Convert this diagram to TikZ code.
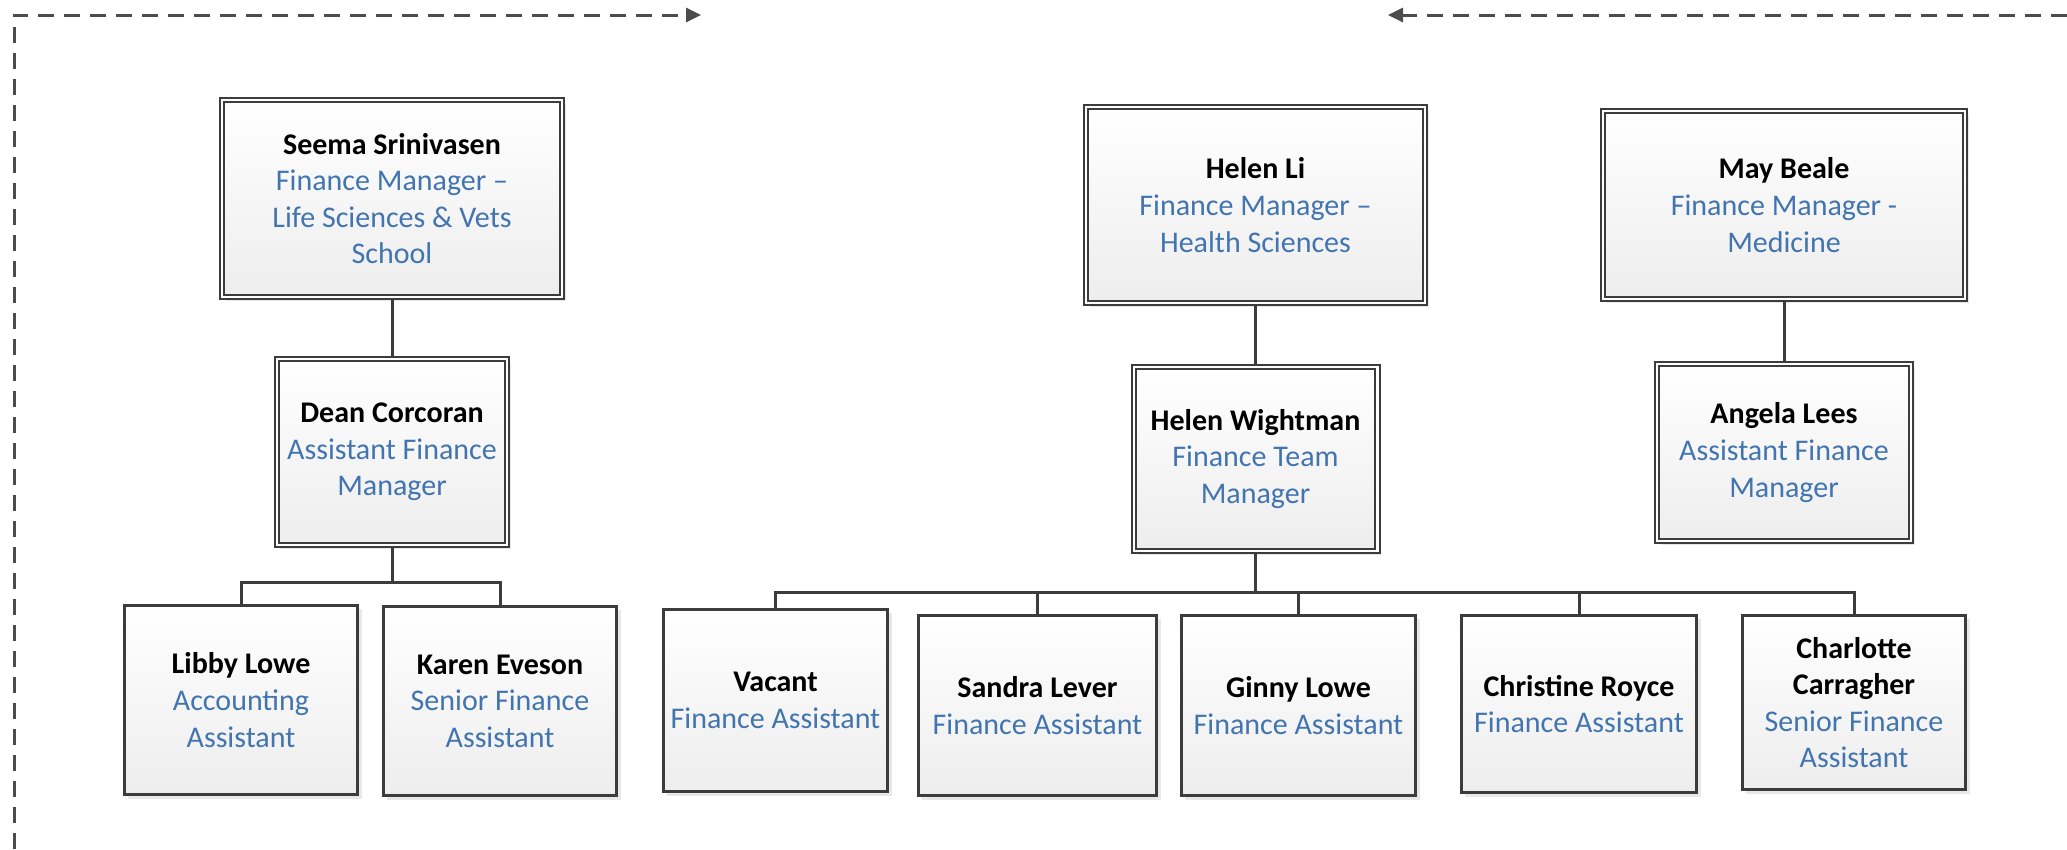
\documentclass[tikz,border=0pt]{standalone}
\usepackage{fontspec}
\setmainfont{Carlito}
\usetikzlibrary{shadows,arrows.meta}
\definecolor{ttlc}{HTML}{4275B0}
\definecolor{lnc}{HTML}{3C3C3C}
\newcommand\pname[1]{\textbf{#1}}
\newcommand\ptitle[1]{\textcolor{ttlc}{#1}}
\begin{document}
\begin{tikzpicture}[x=1pt,y=-1pt,
  box/.style={draw=lnc, line width=2.6pt, top color=white, bottom color=black!7,
    drop shadow={shadow xshift=4pt,shadow yshift=-4pt,fill=black!18},
    align=center, inner sep=0pt, font=\fontsize{30}{36.6}\selectfont},
  mgr/.style={box, line width=2pt, double=white, double distance=2.4pt},
  link/.style={draw=lnc, line width=3pt},
  flow/.style={draw=black!70, line width=3pt, dash pattern=on 16pt off 10pt,
    -{Triangle[length=15pt,width=14pt]}}]
\useasboundingbox (0,0) rectangle (2067,849);

% managers
\node[mgr, minimum width=339.6pt, minimum height=196.6pt] (seema) at (392,198.5)
  {\pname{Seema Srinivasen}\\\ptitle{Finance Manager –}\\\ptitle{Life Sciences \& Vets}\\\ptitle{School}};
\node[mgr, minimum width=229.6pt, minimum height=185.6pt] (dean) at (392,452)
  {\pname{Dean Corcoran}\\\ptitle{Assistant Finance}\\\ptitle{Manager}};
\node[mgr, minimum width=338.6pt, minimum height=195.6pt] (helenli) at (1255.5,205)
  {\pname{Helen Li}\\\ptitle{Finance Manager –}\\\ptitle{Health Sciences}};
\node[mgr, minimum width=243.6pt, minimum height=183.6pt] (helenw) at (1255.5,459)
  {\pname{Helen Wightman}\\\ptitle{Finance Team}\\\ptitle{Manager}};
\node[mgr, minimum width=361.6pt, minimum height=187.6pt] (may) at (1784,205)
  {\pname{May Beale}\\\ptitle{Finance Manager -}\\\ptitle{Medicine}};
\node[mgr, minimum width=253.6pt, minimum height=176.6pt] (angela) at (1784,452.5)
  {\pname{Angela Lees}\\\ptitle{Assistant Finance}\\\ptitle{Manager}};

% assistants
\node[box, minimum width=233.4pt, minimum height=189.4pt] (libby) at (241,700)
  {\pname{Libby Lowe}\\\ptitle{Accounting}\\\ptitle{Assistant}};
\node[box, minimum width=233.4pt, minimum height=189.4pt] (karen) at (500,701)
  {\pname{Karen Eveson}\\\ptitle{Senior Finance}\\\ptitle{Assistant}};
\node[box, minimum width=224.4pt, minimum height=182.4pt] (vacant) at (775.5,700.5)
  {\pname{Vacant}\\\ptitle{Finance Assistant}};
\node[box, minimum width=238.4pt, minimum height=180.4pt] (sandra) at (1037.5,705.5)
  {\pname{Sandra Lever}\\\ptitle{Finance Assistant}};
\node[box, minimum width=234.4pt, minimum height=180.4pt] (ginny) at (1298.5,705.5)
  {\pname{Ginny Lowe}\\\ptitle{Finance Assistant}};
\node[box, minimum width=235.4pt, minimum height=177.4pt] (christine) at (1579,704)
  {\pname{Christine Royce}\\\ptitle{Finance Assistant}};
\node[box, minimum width=223.4pt, minimum height=174.4pt] (charlotte) at (1854,702.5)
  {\pname{Charlotte}\\\pname{Carragher}\\\ptitle{Senior Finance}\\\ptitle{Assistant}};

% reporting lines
\coordinate (deanbus) at (392,582);
\coordinate (hwbus) at (1255.5,592);
\draw[link] (seema.south) -- (dean.north);
\draw[link] (dean.south) -- (deanbus);
\draw[link] (deanbus) -| (libby.north);
\draw[link] (deanbus) -| (karen.north);
\draw[link] (helenli.south) -- (helenw.north);
\draw[link] (helenw.south) -- (hwbus);
\draw[link] (hwbus) -| (vacant.north);
\draw[link] (hwbus) -| (sandra.north);
\draw[link] (hwbus) -| (ginny.north);
\draw[link] (hwbus) -| (christine.north);
\draw[link] (hwbus) -| (charlotte.north);
\draw[link] (may.south) -- (angela.north);

% dashed flows
\coordinate (fl0) at (14,849);
\coordinate (fl1) at (14,15);
\coordinate (fl2) at (701,15);
\draw[flow] (fl0) -- (fl1) -- (fl2);
\coordinate (fr0) at (2067,15);
\coordinate (fr1) at (1388,15);
\draw[flow] (fr0) -- (fr1);
\end{tikzpicture}
\end{document}
